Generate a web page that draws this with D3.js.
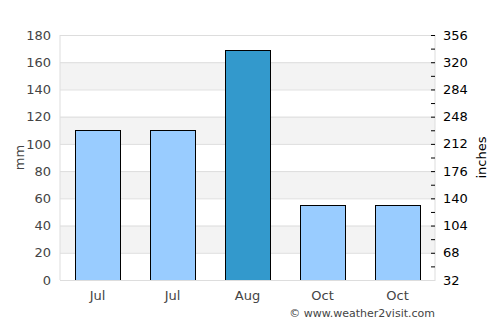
<!DOCTYPE html>
<html>
<head>
<meta charset="utf-8">
<script src="https://cdn.jsdelivr.net/npm/d3@7"></script>
<style>
  body { margin: 0; background: #fff; }
  svg text { font-family: "DejaVu Sans", sans-serif; }
</style>
</head>
<body>
<div id="chart"></div>
<script>
let months = ['Jul', 'Jul', 'Aug', 'Oct', 'Oct'];
let rainfall = [110, 110, 169, 55, 55];
let highlight = [false, false, true, false, false];
let mmTicks = [0, 20, 40, 60, 80, 100, 120, 140, 160, 180];
let rightTicks = [32, 68, 104, 140, 176, 212, 248, 284, 320, 356];
let rightMinor = [50, 86, 122, 158, 194, 230, 266, 302, 338];

let width = 500, height = 325;
let margin = { top: 35, right: 65, bottom: 45, left: 60 };
let plotW = width - margin.left - margin.right;
let plotH = height - margin.top - margin.bottom;

let svg = d3.select('#chart').append('svg')
  .attr('width', width)
  .attr('height', height);

let g = svg.append('g').attr('transform', `translate(${margin.left}, ${margin.top})`);

let xScale = d3.scaleBand()
  .domain(d3.range(months.length))
  .range([0, plotW])
  .paddingInner(0.4)
  .paddingOuter(0.2);

let yScale = d3.scaleLinear().domain([0, 180]).range([plotH, 0]);
let yRight = d3.scaleLinear().domain([32, 356]).range([plotH, 0]);

// Alternating bands
let bands = mmTicks.slice(0, -1).filter((v, i) => i % 2 === 1);
g.selectAll('rect.band')
  .data(bands)
  .enter()
  .append('rect')
  .attr('class', 'band')
  .attr('x', 0)
  .attr('width', plotW)
  .attr('y', v => yScale(v + 20))
  .attr('height', v => yScale(v) - yScale(v + 20))
  .style('fill', '#f3f3f3');

// Gridlines
g.append('g')
  .call(d3.axisLeft(yScale).tickValues(mmTicks).tickSize(-plotW).tickFormat(''))
  .call(a => a.select('.domain').remove())
  .selectAll('line')
  .style('stroke', '#dddddd');

// Frame
g.append('line').attr('x1', 0).attr('x2', 0).attr('y1', 0).attr('y2', plotH).style('stroke', '#dddddd');
g.append('line').attr('x1', plotW).attr('x2', plotW).attr('y1', 0).attr('y2', plotH).style('stroke', '#dddddd');

// Bars
g.selectAll('rect.bar')
  .data(rainfall)
  .enter()
  .append('rect')
  .attr('class', 'bar')
  .attr('x', (v, i) => Math.round(xScale(i)) + 0.5)
  .attr('width', Math.round(xScale.bandwidth()))
  .attr('y', v => Math.round(yScale(v)) + 0.5)
  .attr('height', v => plotH - Math.round(yScale(v)))
  .style('fill', (v, i) => highlight[i] ? '#3399cc' : '#99ccff')
  .style('stroke', '#000')
  .style('stroke-width', 1);

// Left axis
g.append('g')
  .call(d3.axisLeft(yScale).tickValues(mmTicks).tickSize(0).tickPadding(9))
  .call(a => a.select('.domain').remove())
  .selectAll('text')
  .style('font-size', '13px')
  .style('fill', '#444');

// Right axis
let right = g.append('g').attr('transform', `translate(${plotW}, 0)`);
right.call(d3.axisLeft(yRight).tickValues(rightTicks.concat(rightMinor)).tickSize(4).tickFormat(''))
  .call(a => a.select('.domain').remove())
  .selectAll('line')
  .style('stroke', '#000');
right.selectAll('text.rlabel')
  .data(rightTicks)
  .enter()
  .append('text')
  .attr('class', 'rlabel')
  .attr('x', 8)
  .attr('y', v => yRight(v))
  .attr('dy', '0.35em')
  .attr('text-anchor', 'start')
  .style('font-size', '13px')
  .style('fill', '#000')
  .text(v => v);

// X axis
g.append('g')
  .attr('transform', `translate(0, ${plotH})`)
  .call(d3.axisBottom(xScale).tickSize(0).tickPadding(11).tickFormat(i => months[i]))
  .call(a => a.select('.domain').style('stroke', '#dddddd'))
  .selectAll('text')
  .style('font-size', '13px')
  .style('fill', '#444');

// Axis titles
svg.append('text')
  .attr('transform', `translate(24, ${margin.top + plotH / 2}) rotate(-90)`)
  .attr('text-anchor', 'middle')
  .style('font-size', '13px')
  .style('fill', '#444')
  .text('mm');

svg.append('text')
  .attr('transform', `translate(486, ${margin.top + plotH / 2}) rotate(-90)`)
  .attr('text-anchor', 'middle')
  .style('font-size', '13px')
  .style('fill', '#000')
  .text('inches');

svg.append('text')
  .attr('x', margin.left + plotW)
  .attr('y', 317)
  .attr('text-anchor', 'end')
  .style('font-size', '11px')
  .style('fill', '#444')
  .text('© www.weather2visit.com');
</script>
</body>
</html>
